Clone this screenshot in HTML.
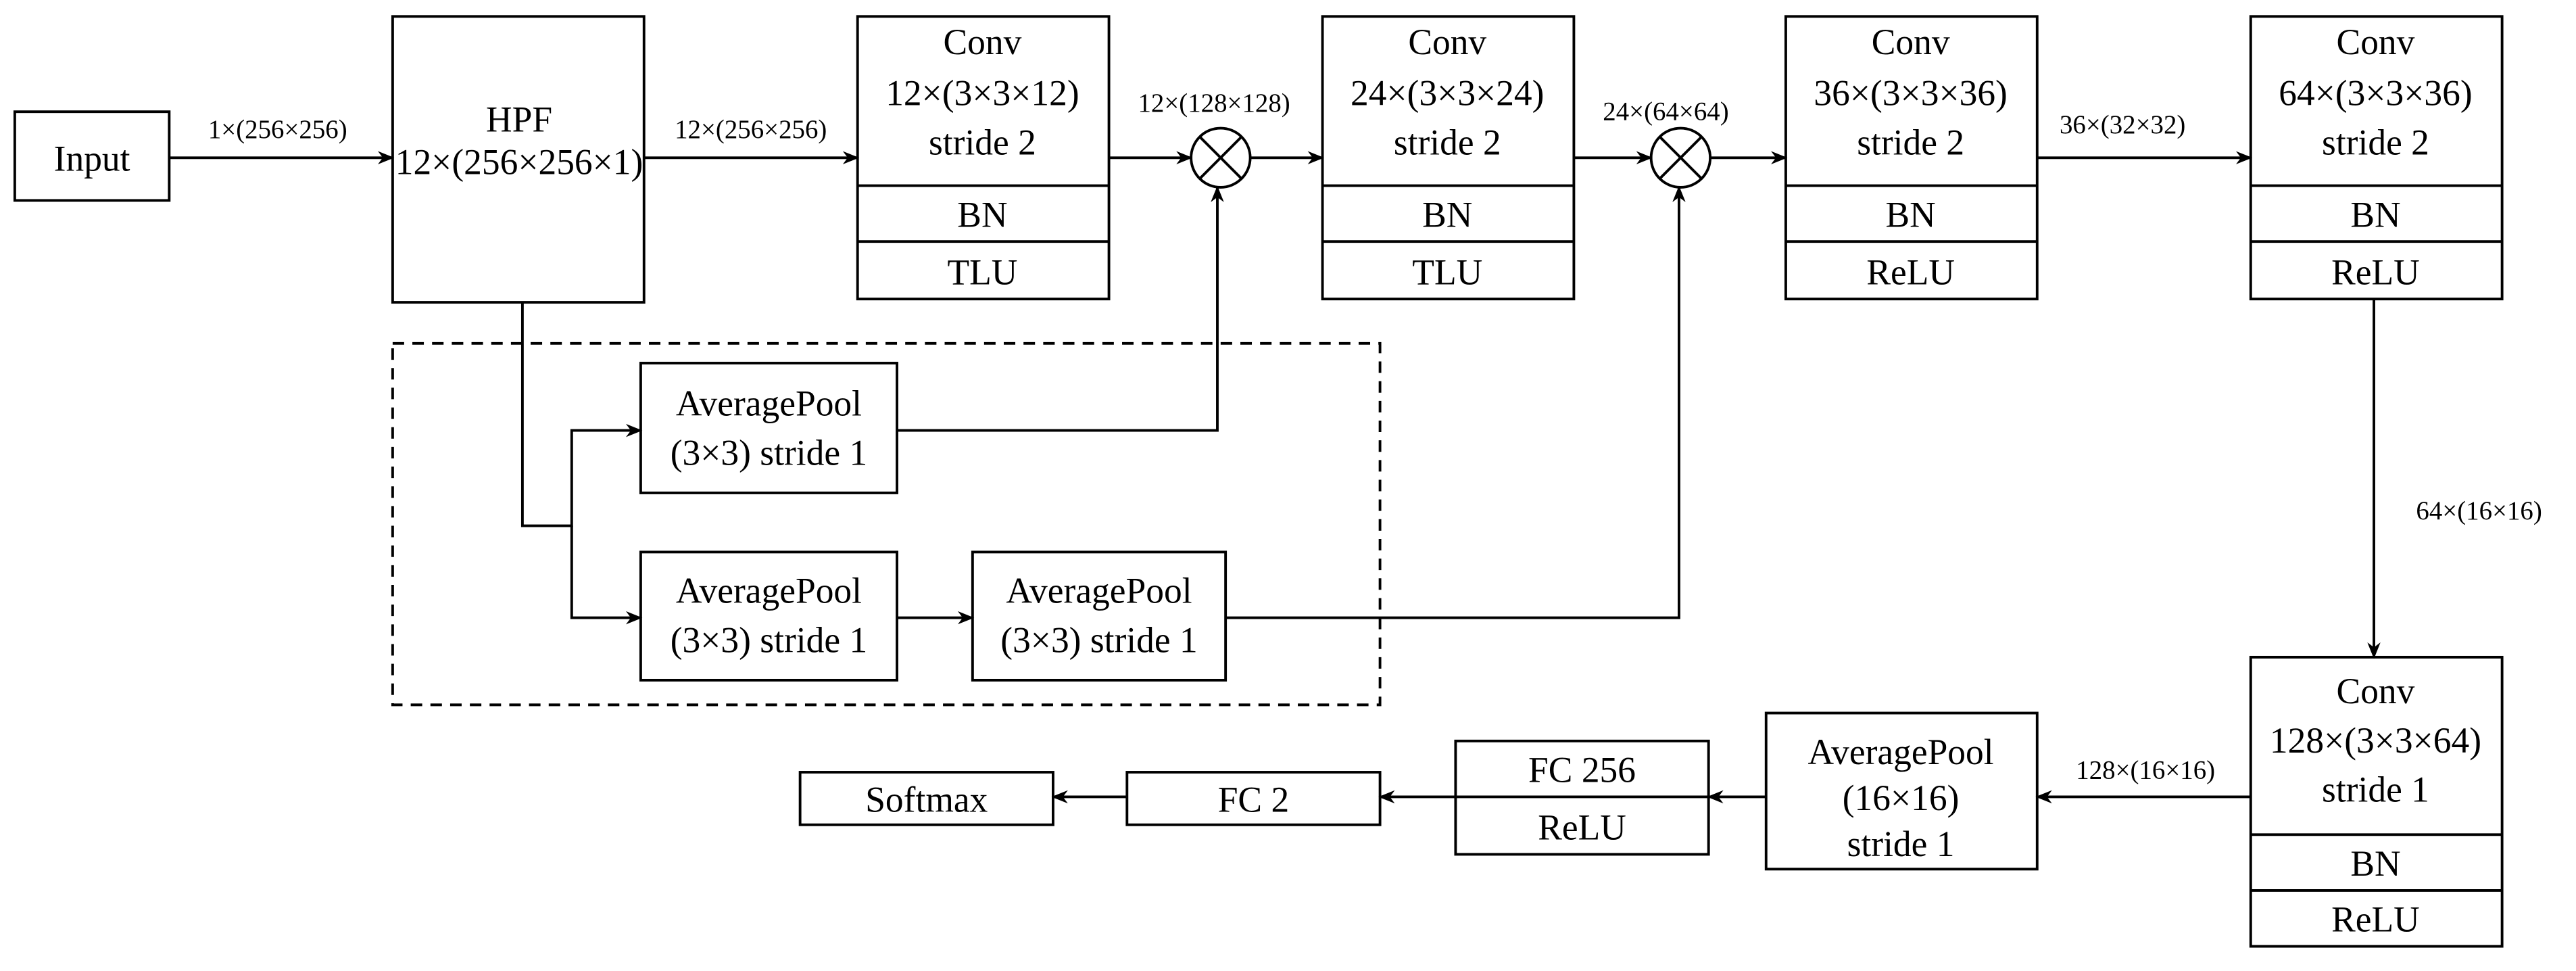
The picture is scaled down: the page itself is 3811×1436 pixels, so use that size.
<!DOCTYPE html>
<html><head><meta charset="utf-8"><style>html,body{margin:0;padding:0;background:#fff}svg{display:block}text{font-family:"Liberation Serif","DejaVu Serif",serif}</style></head>
<body>
<svg width="3811" height="1436" viewBox="0 0 1568 591" preserveAspectRatio="none" xmlns="http://www.w3.org/2000/svg" fill="none" stroke="#000" stroke-width="1.6">
<defs><marker id="a" markerWidth="10" markerHeight="8" refX="9" refY="4" orient="auto" markerUnits="userSpaceOnUse"><path d="M0,0 L10,4 L0,8 L3,4 Z" fill="#000" stroke="none"/></marker></defs>
<rect x="9" y="68" width="94" height="54"/>
<rect x="239" y="10" width="153" height="174"/>
<rect x="522" y="10" width="153" height="172"/><line x1="522" y1="113" x2="675" y2="113"/><line x1="522" y1="147" x2="675" y2="147"/>
<rect x="805" y="10" width="153" height="172"/><line x1="805" y1="113" x2="958" y2="113"/><line x1="805" y1="147" x2="958" y2="147"/>
<rect x="1087" y="10" width="153" height="172"/><line x1="1087" y1="113" x2="1240" y2="113"/><line x1="1087" y1="147" x2="1240" y2="147"/>
<rect x="1370" y="10" width="153" height="172"/><line x1="1370" y1="113" x2="1523" y2="113"/><line x1="1370" y1="147" x2="1523" y2="147"/>
<rect x="1370" y="400" width="153" height="176"/><line x1="1370" y1="508" x2="1523" y2="508"/><line x1="1370" y1="542" x2="1523" y2="542"/>
<rect x="1075" y="434" width="165" height="95"/>
<rect x="886" y="451" width="154" height="69"/><line x1="886" y1="485" x2="1040" y2="485"/>
<rect x="686" y="470" width="154" height="32"/>
<rect x="487" y="470" width="154" height="32"/>
<rect x="239" y="209" width="601" height="220" stroke-dasharray="7,5"/>
<rect x="390" y="221" width="156" height="79"/>
<rect x="390" y="336" width="156" height="78"/>
<rect x="592" y="336" width="154" height="78"/>
<circle cx="743" cy="96" r="18"/><line x1="730" y1="83" x2="756" y2="109"/><line x1="756" y1="83" x2="730" y2="109"/>
<circle cx="1023" cy="96" r="18"/><line x1="1010" y1="83" x2="1036" y2="109"/><line x1="1036" y1="83" x2="1010" y2="109"/>
<g marker-end="url(#a)">
<line x1="103" y1="96" x2="239" y2="96"/>
<line x1="392" y1="96" x2="522" y2="96"/>
<line x1="675" y1="96" x2="725" y2="96"/>
<line x1="761" y1="96" x2="805" y2="96"/>
<line x1="958" y1="96" x2="1005" y2="96"/>
<line x1="1041" y1="96" x2="1087" y2="96"/>
<line x1="1240" y1="96" x2="1370" y2="96"/>
<line x1="1445" y1="182" x2="1445" y2="400"/>
<line x1="1370" y1="485" x2="1240" y2="485"/>
<line x1="1075" y1="485" x2="1040" y2="485"/>
<line x1="886" y1="485" x2="840" y2="485"/>
<line x1="686" y1="485" x2="641" y2="485"/>
<polyline points="318,184 318,320 348,320 348,262 390,262"/>
<polyline points="348,320 348,376 390,376"/>
<line x1="546" y1="376" x2="592" y2="376"/>
<polyline points="546,262 741,262 741,114"/>
<polyline points="746,376 1022,376 1022,114"/>
</g>
<g fill="#000" stroke="none" font-size="22" text-anchor="middle">
<text x="56" y="104">Input</text>
<text x="316" y="80">HPF</text><text x="316" y="106">12×(256×256×1)</text>
<text x="598" y="33">Conv</text><text x="598" y="64">12×(3×3×12)</text><text x="598" y="94">stride 2</text><text x="598" y="138">BN</text><text x="598" y="173">TLU</text>
<text x="881" y="33">Conv</text><text x="881" y="64">24×(3×3×24)</text><text x="881" y="94">stride 2</text><text x="881" y="138">BN</text><text x="881" y="173">TLU</text>
<text x="1163" y="33">Conv</text><text x="1163" y="64">36×(3×3×36)</text><text x="1163" y="94">stride 2</text><text x="1163" y="138">BN</text><text x="1163" y="173">ReLU</text>
<text x="1446" y="33">Conv</text><text x="1446" y="64">64×(3×3×36)</text><text x="1446" y="94">stride 2</text><text x="1446" y="138">BN</text><text x="1446" y="173">ReLU</text>
<text x="1446" y="428">Conv</text><text x="1446" y="458">128×(3×3×64)</text><text x="1446" y="488">stride 1</text><text x="1446" y="533">BN</text><text x="1446" y="567">ReLU</text>
<text x="1157" y="465">AveragePool</text><text x="1157" y="493">(16×16)</text><text x="1157" y="521">stride 1</text>
<text x="963" y="476">FC 256</text><text x="963" y="511">ReLU</text>
<text x="763" y="494">FC 2</text>
<text x="564" y="494">Softmax</text>
<text x="468" y="253">AveragePool</text><text x="468" y="283">(3×3) stride 1</text>
<text x="468" y="367">AveragePool</text><text x="468" y="397">(3×3) stride 1</text>
<text x="669" y="367">AveragePool</text><text x="669" y="397">(3×3) stride 1</text>
</g>
<g fill="#000" stroke="none" font-size="16" text-anchor="middle">
<text x="169" y="84">1×(256×256)</text>
<text x="457" y="84">12×(256×256)</text>
<text x="739" y="68">12×(128×128)</text>
<text x="1014" y="73">24×(64×64)</text>
<text x="1292" y="81">36×(32×32)</text>
<text x="1509" y="316">64×(16×16)</text>
<text x="1306" y="474">128×(16×16)</text>
</g>
</svg>
</body></html>
